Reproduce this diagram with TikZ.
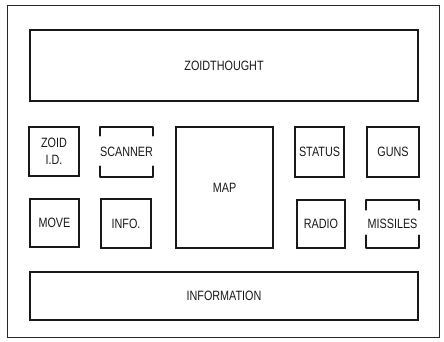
\documentclass[tikz,border=0pt]{standalone}
\usepackage{fontspec}
\setmainfont[FakeStretch=0.8]{Liberation Sans}
\begin{document}
\begin{tikzpicture}[x=1pt,y=-1pt,
  every node/.style={font=\fontsize{13.5}{13.5}\selectfont, text=black!90, align=center, inner sep=0pt},
  panel/.style={draw=black!90, line width=1.6pt, rectangle},
  openpanel/.style={rectangle},
  edge/.style={draw=black!90, line width=1.6pt, line cap=round, line join=round}]
\useasboundingbox (0,0) rectangle (444,341);
\node[draw=black!85, line width=1.3pt, minimum width=432pt, minimum height=332pt] (frame) at (223.5,171.5) {};
\node[panel, minimum width=388pt, minimum height=71pt] (zt) at (224,65.5) {ZOIDTHOUGHT};
\node[panel, minimum width=388pt, minimum height=48pt] (info) at (224,296) {INFORMATION};
\node[panel, minimum width=50pt, minimum height=49pt] (zid) at (54,151.5) {ZOID\\[4pt]I.D.};
\node[openpanel, minimum width=51pt, minimum height=50pt] (scan) at (126.5,152) {SCANNER};
\node[panel, minimum width=49pt, minimum height=48pt] (move) at (54.5,223) {MOVE};
\node[panel, minimum width=50pt, minimum height=49pt] (inf) at (126,223.5) {INFO.};
\node[panel, minimum width=97pt, minimum height=121pt] (map) at (224.5,187.5) {MAP};
\node[panel, minimum width=49pt, minimum height=50pt] (status) at (319.5,152) {STATUS};
\node[panel, minimum width=52pt, minimum height=50pt] (guns) at (393,152) {GUNS};
\node[panel, minimum width=48pt, minimum height=48pt] (radio) at (321,224) {RADIO};
\node[openpanel, minimum width=53pt, minimum height=48pt] (mis) at (392.5,224) {MISSILES};
\draw[edge] ([yshift=-9pt]scan.north west) -- (scan.north west) -- (scan.north east) -- ([yshift=-9pt]scan.north east);
\draw[edge] ([yshift=11pt]scan.south west) -- (scan.south west) -- (scan.south east) -- ([yshift=11pt]scan.south east);
\draw[edge] ([yshift=-10pt]mis.north west) -- (mis.north west) -- (mis.north east) -- ([yshift=-10pt]mis.north east);
\draw[edge] ([yshift=13pt]mis.south west) -- (mis.south west) -- (mis.south east) -- ([yshift=13pt]mis.south east);
\end{tikzpicture}
\end{document}
